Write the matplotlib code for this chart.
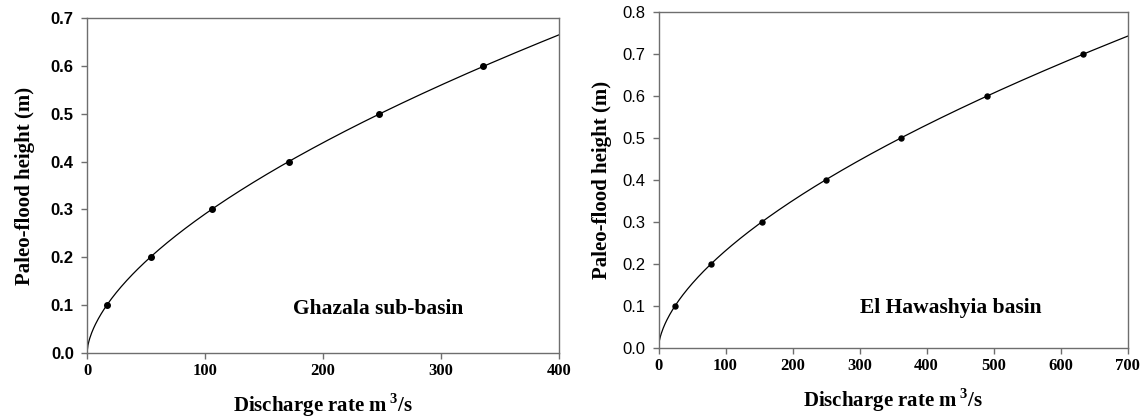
import numpy as np
import matplotlib
matplotlib.use("Agg")
import matplotlib.pyplot as plt

plt.rcParams['mathtext.fontset'] = 'custom'
plt.rcParams['mathtext.rm'] = 'Liberation Serif:bold'
plt.rcParams['mathtext.bf'] = 'Liberation Serif:bold'

# Data
ghazala_q = [16.7, 54, 106, 171, 247.5, 336]
ghazala_h = [0.1, 0.2, 0.3, 0.4, 0.5, 0.6]
hawash_q = [24.6, 78.2, 153.7, 249.4, 362, 490.5, 633.8]
hawash_h = [0.1, 0.2, 0.3, 0.4, 0.5, 0.6, 0.7]

left_xticks = [0, 100, 200, 300, 400]
left_yticks = [0.0, 0.1, 0.2, 0.3, 0.4, 0.5, 0.6, 0.7]
right_xticks = [0, 100, 200, 300, 400, 500, 600, 700]
right_yticks = [0.0, 0.1, 0.2, 0.3, 0.4, 0.5, 0.6, 0.7, 0.8]

SERIF = 'Liberation Serif'
SANS = 'Liberation Sans'
SPINE = '#6e6e6e'
W, H = 1146, 419

fig = plt.figure(figsize=(W / 100, H / 100), dpi=100)

def panel(px, q, h, xmax, ymax, xticks, yticks, ybold, title, tpos, ypad, ms):
    x0, x1, y0, y1 = px
    ax = fig.add_axes([x0 / W, 1 - y1 / H, (x1 - x0) / W, (y1 - y0) / H])
    b, loga = np.polyfit(np.log(q), np.log(h), 1)
    xx = np.linspace(0, xmax, 500)
    ax.plot(xx, np.exp(loga) * xx ** b, color='black', lw=0.9)
    ax.plot(q, h, 'o', color='black', ms=ms)
    ax.set_xlim(0, xmax)
    ax.set_ylim(0, ymax)
    ax.set_xticks(xticks)
    ax.set_yticks(yticks)
    ax.set_xticklabels([str(t) for t in xticks], fontfamily=SERIF,
                       fontweight='bold', fontsize=12)
    ax.set_yticklabels([f"{t:.1f}" for t in yticks], fontfamily=SANS,
                       fontweight='bold' if ybold else 'normal', fontsize=12)
    for s in ax.spines.values():
        s.set_color(SPINE)
        s.set_linewidth(1.0)
    ax.tick_params(direction='out', length=4, width=1, color=SPINE)
    ax.tick_params(axis='x', pad=3.5)
    ax.tick_params(axis='y', pad=5.5)
    ax.set_xlabel('Discharge rate m$\\,{}^{\\mathrm{3}}$/s', fontfamily=SERIF,
                  fontweight='bold', fontsize=15, labelpad=8.5)
    ax.set_ylabel('Paleo-flood height (m)', fontfamily=SERIF,
                  fontweight='bold', fontsize=15, labelpad=ypad)
    ax.text(tpos[0], tpos[1], title, fontfamily=SERIF, fontweight='bold',
            fontsize=15.5, ha='left', va='baseline')
    return ax

panel((87, 559, 18, 353), ghazala_q, ghazala_h, 400, 0.7,
      left_xticks, left_yticks, True, 'Ghazala sub-basin', (174.5, 0.081), 11.5, 4)
panel((658.5, 1127.7, 12, 348), hawash_q, hawash_h, 700, 0.8,
      right_xticks, right_yticks, False, 'El Hawashyia basin', (300, 0.083), 7.5, 3.6)

fig.savefig('out.png', dpi=100)
